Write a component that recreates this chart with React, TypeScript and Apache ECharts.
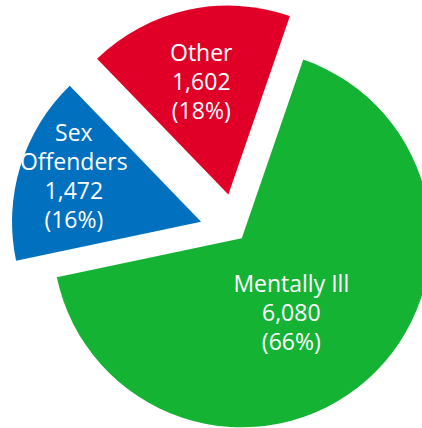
import React, { useEffect, useRef } from "react";
import * as echarts from "echarts";

const categories = ["Mentally Ill", "Sex Offenders", "Other"];
const labelNames = ["Mentally Ill", "Sex\nOffenders", "Other"];
const values = [6080, 1472, 1602];

const COLORS = ["#15b334", "#0070bf", "#e00027"];
const EXPLODE = [7.5, 37.4, 39];
const LABEL_SHIFT = [
  [-15, 1],
  [-34, -18],
  [-6, -18.5],
];

function buildOption() {
  const series = categories.map((_, i) => {
    return {
      type: "pie",
      center: [236.8, 232.7],
      radius: 189,
      startAngle: 71,
      clockwise: true,
      selectedMode: "multiple",
      selectedOffset: EXPLODE[i],
      silent: true,
      emphasis: { disabled: true },
      labelLine: { show: false },
      z: 2 + i,
      labelLayout: () => ({ dx: LABEL_SHIFT[i][0], dy: LABEL_SHIFT[i][1] }),
      data: categories.map((name, j) => ({
        name,
        value: values[j],
        selected: j === i,
        itemStyle: {
          color: j === i ? COLORS[j] : "rgba(0,0,0,0)",
          borderWidth: 0,
        },
        label: {
          show: j === i,
          position: "inside",
          color: "#ffffff",
          fontFamily: "Open Sans",
          fontSize: 23,
          lineHeight: 29,
          fontWeight: "normal",
          align: "center",
          verticalAlign: "middle",
          formatter: (p: any) =>
            labelNames[p.dataIndex] +
            "\n" +
            Number(p.value).toLocaleString("en-US") +
            "\n(" +
            Math.round(p.percent) +
            "%)",
        },
      })),
    };
  });
  return {
    animation: false,
    backgroundColor: "#ffffff",
    series,
  };
}

export default function App() {
  const ref = useRef<HTMLDivElement>(null);
  useEffect(() => {
    if (!ref.current) return;
    const chart = echarts.init(ref.current, undefined, { renderer: "svg" });
    chart.setOption(buildOption() as any);
    return () => chart.dispose();
  }, []);
  return (
    <div
      ref={ref}
      style={{ position: "fixed", left: 0, top: 0, width: 422, height: 428 }}
    />
  );
}
